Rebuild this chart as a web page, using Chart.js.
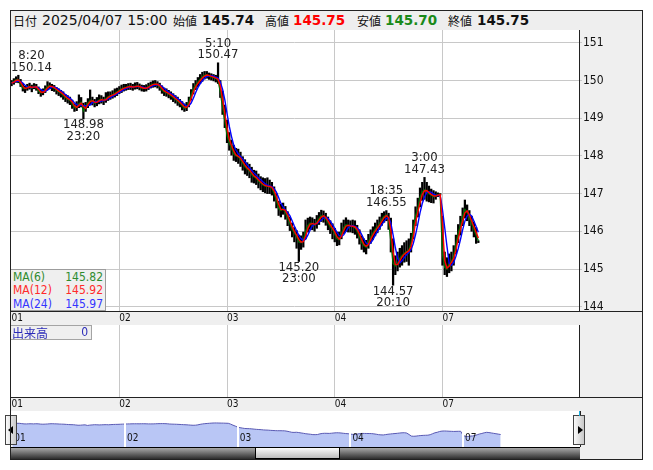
<!DOCTYPE html>
<html>
<head>
<meta charset="utf-8">
<script src="https://cdn.jsdelivr.net/npm/chart.js@4.4.1/dist/chart.umd.min.js"></script>
<style>
  body { margin: 0; background: #fff; }
  #wrap { position: relative; width: 653px; height: 470px; overflow: hidden;
          font-family: "DejaVu Sans Condensed", "DejaVu Sans", sans-serif; color: #111; }
  #wrap canvas, #wrap .abs { position: absolute; }
  #head { left: 10px; top: 10px; width: 632px; height: 21px; background: #eeeeee; }
  .hd { position: absolute; top: 11px; line-height: 19px; white-space: nowrap; }
  .jp { font-family: "Noto Sans CJK JP", sans-serif; font-size: 12px; }
  .dt { font-family: "DejaVu Sans", sans-serif; font-size: 14px; }
  .num { font-family: "DejaVu Sans", sans-serif; font-size: 13.5px; font-weight: bold; }
  #maBox { left: 10px; top: 269px; width: 96px; height: 42px; background: #efefef;
           border: 1px solid #9c9c9c; box-sizing: border-box; font-size: 12px; }
  #maBox div { position: absolute; left: 2px; right: 2px; height: 14px; line-height: 14px; }
  #maBox span { position: absolute; right: 0; }
  #volBox { left: 10px; top: 325px; width: 82px; height: 15px; background: #efefef;
            border: 1px solid #a4a4a4; box-sizing: border-box; color: #2a2ab8; }
  .btn { width: 12px; height: 30px; top: 415px; border: 1px solid #444; box-sizing: border-box;
         background: linear-gradient(to right, #fafafa, #c8c8c8); }
  .tri { position: absolute; top: 10px; width: 0; height: 0; border-top: 4px solid transparent;
         border-bottom: 4px solid transparent; }
  #frame { left: 10px; top: 10px; width: 633px; height: 450px; border: 1px solid #222;
           box-sizing: border-box; pointer-events: none; }
</style>
</head>
<body>
<div id="wrap">
  <div id="head" class="abs"></div>
  <span class="hd jp" style="left:13px">日付</span>
  <span class="hd dt" style="left:42px">2025/04/07 15:00</span>
  <span class="hd jp" style="left:173px">始値</span>
  <span class="hd num" style="left:202px">145.74</span>
  <span class="hd jp" style="left:265px">高値</span>
  <span class="hd num" style="left:293px;color:#ff0000">145.75</span>
  <span class="hd jp" style="left:357px">安値</span>
  <span class="hd num" style="left:385px;color:#1a8a1a">145.70</span>
  <span class="hd jp" style="left:448px">終値</span>
  <span class="hd num" style="left:477px">145.75</span>

  <canvas id="main" width="632" height="295" style="left:10px;top:30px;background:#efefef"></canvas>
  <canvas id="vol" width="632" height="86" style="left:10px;top:325px;background:#efefef"></canvas>
  <canvas id="nav" width="632" height="36" style="left:10px;top:411px;background:#efefef"></canvas>

  <div id="maBox" class="abs">
    <div style="top:0px;color:#2e8b2e">MA(6)<span>145.82</span></div>
    <div style="top:13px;color:#ff2a2a">MA(12)<span>145.92</span></div>
    <div style="top:27px;color:#3434ff">MA(24)<span>145.97</span></div>
  </div>
  <div id="volBox" class="abs">
    <span class="jp" style="position:absolute;left:1px;top:-2px">出来高</span>
    <span style="position:absolute;right:3px;top:0px;font-size:12px;line-height:13px">0</span>
  </div>

  <div class="abs btn" style="left:5px"><div class="tri" style="left:2px;border-right:5px solid #000"></div></div>
  <div class="abs btn" style="left:573px"><div class="tri" style="left:4px;border-left:5px solid #000"></div></div>
  <div class="abs" style="left:10px;top:411px;width:1px;height:5px;background:#20b0e0"></div>
  <div class="abs" style="left:579px;top:411px;width:1px;height:5px;background:#20b0e0"></div>

  <div class="abs" style="left:10px;top:447px;width:570px;height:12px;border-top:1px solid #000;box-sizing:border-box;background:linear-gradient(#a8a8a8,#2c2c2c)"></div>
  <div class="abs" style="left:255px;top:447px;width:85px;height:12px;border:1px solid #000;box-sizing:border-box;background:linear-gradient(#fbfbfb,#bdbdbd)"></div>
  <div class="abs" style="left:580px;top:447px;width:62px;height:12px;background:#efefef"></div>

  <div id="frame" class="abs"></div>
</div>

<script>
// half-hour samples from 2025/04/01 7:00 (index 0) to 04/07 15:00 (index 208)
const dayStarts = [0, 48, 96, 144, 192];
const dayLabels = ['01', '02', '03', '04', '07'];
const yTicks = [144, 145, 146, 147, 148, 149, 150, 151];

const closes = [
  149.93,149.98,150.02,150.01,149.90,149.80,149.78,149.83,149.84,149.80,
  149.85,149.82,149.72,149.67,149.70,149.76,149.84,149.86,149.82,149.80,
  149.74,149.70,149.67,149.60,149.55,149.50,149.48,149.38,149.28,149.30,
  149.38,149.42,149.20,149.32,149.40,149.48,149.45,149.40,149.44,149.48,
  149.50,149.46,149.52,149.57,149.60,149.62,149.66,149.70,
  149.74,149.78,149.80,149.82,149.84,149.84,149.82,149.85,149.85,149.83,
  149.80,149.79,149.80,149.84,149.88,149.90,149.91,149.89,149.84,149.75,
  149.70,149.68,149.64,149.60,149.55,149.50,149.45,149.40,149.33,149.27,
  149.30,149.42,149.62,149.78,149.88,149.96,150.03,150.10,150.14,150.15,
  150.12,150.10,150.08,150.05,150.02,149.70,149.30,148.95,
  148.55,148.35,148.20,148.05,148.00,147.98,147.90,147.80,147.71,147.65,
  147.60,147.50,147.45,147.41,147.33,147.28,147.23,147.20,147.20,147.18,
  147.15,147.00,146.83,146.60,146.55,146.61,146.50,146.35,146.21,146.05,
  145.95,145.85,145.72,145.70,145.75,146.00,146.15,146.22,146.20,146.17,
  146.25,146.34,146.42,146.40,146.33,146.22,146.12,146.05,
  145.92,145.80,145.78,145.95,146.10,146.17,146.15,146.14,146.13,146.10,
  146.00,145.86,145.70,145.62,145.58,145.72,145.85,145.95,146.05,146.12,
  146.21,146.32,146.40,146.43,146.30,145.75,145.15,145.08,145.15,145.28,
  145.36,145.42,145.46,145.50,145.68,146.05,146.40,146.60,146.90,147.05,
  147.10,147.06,147.00,146.96,146.92,146.95,146.97,146.98,
  145.40,145.05,145.00,145.15,145.20,145.35,145.65,145.95,146.15,146.40,
  146.58,146.50,146.35,146.20,146.05,145.90,145.75
];
const highs = [
  150.00,150.05,150.10,150.14,150.03,149.92,149.85,149.90,149.93,149.88,
  149.92,149.90,149.83,149.75,149.78,149.86,149.97,149.94,149.90,149.87,
  149.82,149.78,149.74,149.70,149.63,149.60,149.56,149.48,149.38,149.44,
  149.62,149.55,149.40,149.42,149.52,149.75,149.56,149.50,149.55,149.62,
  149.60,149.56,149.68,149.70,149.70,149.73,149.78,149.80,
  149.84,149.88,149.90,149.90,149.92,149.93,149.90,149.94,149.95,149.91,
  149.88,149.87,149.89,149.93,149.96,149.99,150.00,149.97,149.93,149.86,
  149.80,149.78,149.74,149.70,149.65,149.60,149.56,149.50,149.44,149.38,
  149.42,149.56,149.76,149.92,150.00,150.08,150.16,150.22,150.24,150.24,
  150.20,150.18,150.16,150.14,150.47,150.00,149.72,149.35,
  148.95,148.62,148.42,148.28,148.20,148.18,148.10,147.98,147.90,147.82,
  147.78,147.70,147.62,147.60,147.52,147.45,147.42,147.40,147.42,147.36,
  147.30,147.18,147.00,146.80,146.72,146.75,146.66,146.52,146.38,146.22,
  146.10,146.02,145.90,145.88,145.98,146.30,146.35,146.38,146.36,146.32,
  146.42,146.50,146.56,146.54,146.48,146.38,146.28,146.20,
  146.08,145.98,145.98,146.22,146.30,146.36,146.30,146.28,146.30,146.28,
  146.16,146.04,145.88,145.80,145.76,145.92,146.04,146.12,146.22,146.30,
  146.38,146.48,146.52,146.55,146.48,146.35,145.80,145.35,145.45,145.55,
  145.62,145.70,145.75,145.80,145.95,146.30,146.65,146.88,147.15,147.30,
  147.43,147.30,147.20,147.12,147.08,147.05,147.02,147.00,
  146.40,145.45,145.30,145.40,145.45,145.62,145.90,146.18,146.40,146.62,
  146.83,146.70,146.55,146.40,146.25,146.10,145.75
];
const lows = [
  149.86,149.90,149.95,149.94,149.84,149.72,149.68,149.74,149.77,149.70,
  149.78,149.74,149.65,149.58,149.62,149.68,149.76,149.78,149.73,149.71,
  149.64,149.60,149.56,149.50,149.44,149.40,149.36,149.26,149.18,149.20,
  149.28,149.30,148.98,149.18,149.28,149.36,149.35,149.30,149.33,149.38,
  149.40,149.36,149.42,149.47,149.50,149.53,149.56,149.60,
  149.65,149.68,149.72,149.74,149.76,149.76,149.74,149.77,149.78,149.75,
  149.72,149.71,149.72,149.76,149.80,149.82,149.83,149.80,149.74,149.66,
  149.60,149.58,149.54,149.50,149.44,149.40,149.34,149.30,149.22,149.18,
  149.20,149.30,149.48,149.64,149.76,149.84,149.92,149.98,150.04,150.06,
  150.03,150.01,149.99,149.96,149.92,149.55,149.10,148.75,
  148.35,148.15,148.02,147.88,147.85,147.80,147.72,147.62,147.52,147.48,
  147.42,147.30,147.28,147.24,147.15,147.10,147.05,147.02,147.00,147.00,
  146.96,146.80,146.62,146.42,146.38,146.45,146.32,146.15,146.02,145.85,
  145.72,145.55,145.20,145.52,145.58,145.80,145.98,146.05,146.04,146.00,
  146.08,146.18,146.26,146.24,146.16,146.04,145.94,145.80,
  145.72,145.62,145.64,145.80,145.94,146.00,145.98,145.98,145.96,145.92,
  145.82,145.66,145.52,145.45,145.40,145.55,145.68,145.78,145.88,145.96,
  146.05,146.16,146.24,146.28,146.05,145.45,144.57,144.85,144.95,145.05,
  145.10,145.18,145.20,145.10,145.45,145.80,146.15,146.38,146.65,146.82,
  146.85,146.80,146.78,146.76,146.75,146.85,146.92,146.96,
  145.10,144.85,144.80,144.90,144.95,145.10,145.40,145.70,145.90,146.15,
  146.35,146.28,146.15,146.00,145.85,145.68,145.70
];

// marked extremes
const peakIndex = [3, 32, 92, 128, 167, 170, 184];
const peakTimes = ['8:20', '23:20', '5:10', '23:00', '18:35', '20:10', '3:00'];
const peakPrices = [150.14, 148.98, 150.47, 145.20, 146.55, 144.57, 147.43];
const peakSide = ['high', 'low', 'high', 'low', 'high', 'low', 'high'];

// MA(6/12/24) of 5-minute bars = 1/2/4 half-hour samples
function movingAvg(src, n) {
  return src.map((_, i) => {
    const win = src.slice(Math.max(0, i - n + 1), i + 1);
    return win.reduce((a, b) => a + b, 0) / win.length;
  });
}
const toPts = arr => arr.map((v, i) => ({ x: i, y: v }));

const FONT = '"DejaVu Sans Condensed", "DejaVu Sans", sans-serif';
Chart.defaults.font.family = FONT;
Chart.defaults.animation = false;
Chart.defaults.plugins.legend.display = false;
Chart.defaults.plugins.tooltip.enabled = false;

const xMin = -0.71, xMax = 252.85;

// no extra room for first/last tick labels
function noPad(s) {
  s.paddingTop = 0; s.paddingBottom = 0; s.paddingLeft = 0; s.paddingRight = 0;
}

// white plot area + frame lines
const panel = {
  id: 'panel',
  beforeDraw(chart) {
    const { ctx, chartArea: a } = chart;
    ctx.save();
    ctx.fillStyle = '#fff';
    ctx.fillRect(a.left, a.top, a.right - a.left, a.bottom - a.top);
    ctx.restore();
  },
  afterDraw(chart) {
    const { ctx, chartArea: a, width } = chart;
    ctx.save();
    ctx.strokeStyle = '#222';
    ctx.lineWidth = 1;
    ctx.beginPath();
    ctx.moveTo(Math.round(a.right) + 0.5, 0);
    ctx.lineTo(Math.round(a.right) + 0.5, Math.round(a.bottom));
    ctx.moveTo(0, Math.round(a.bottom) + 0.5);
    ctx.lineTo(width, Math.round(a.bottom) + 0.5);
    ctx.stroke();
    ctx.restore();
  }
};

const peakLabels = {
  id: 'peakLabels',
  afterDatasetsDraw(chart) {
    const { ctx, chartArea: a, scales: { x, y } } = chart;
    ctx.save();
    ctx.font = '13px ' + FONT;
    ctx.fillStyle = '#222';
    ctx.textAlign = 'center';
    ctx.textBaseline = 'middle';
    peakIndex.forEach((idx, k) => {
      const txt = peakPrices[k].toFixed(2);
      const w = ctx.measureText(txt).width;
      const px = Math.max(x.getPixelForValue(idx), a.left + w / 2 + 1);
      const py = y.getPixelForValue(peakPrices[k]);
      if (peakSide[k] === 'high') {
        ctx.fillText(txt, px, py - 8);
        ctx.fillText(peakTimes[k], px, py - 19.5);
      } else {
        ctx.fillText(txt, px, py + 6);
        ctx.fillText(peakTimes[k], px, py + 17.5);
      }
    });
    ctx.restore();
  }
};

function dayAxis() {
  return {
    type: 'linear', min: xMin, max: xMax, offset: false,
    afterBuildTicks: s => { s.ticks = dayStarts.map(v => ({ value: v })); },
    afterFit: s => { s.height = 14; noPad(s); },
    grid: { offset: false, drawTicks: false,
            color: c => (c.tick && c.tick.value === 0) ? 'rgba(0,0,0,0)' : '#c8c8c8' },
    border: { display: false },
    ticks: { callback: (v, i) => dayLabels[i], align: 'start', maxRotation: 0,
             autoSkip: false, padding: 1, color: '#111', font: { size: 10 } }
  };
}

new Chart(document.getElementById('main'), {
  type: 'bar',
  data: {
    datasets: [
      { type: 'line', label: 'MA(12)', data: toPts(movingAvg(closes, 2)), borderColor: '#ff0000',
        borderWidth: 1.4, pointRadius: 0, order: 1 },
      { type: 'line', label: 'MA(24)', data: toPts(movingAvg(closes, 4)), borderColor: '#0000ff',
        borderWidth: 1.4, pointRadius: 0, order: 2 },
      { type: 'line', label: 'MA(6)', data: toPts(movingAvg(closes, 1)), borderColor: '#006e00',
        borderWidth: 1.4, pointRadius: 0, order: 3 },
      { type: 'bar', label: 'range', data: closes.map((c, i) => ({ x: i, y: [lows[i], highs[i]] })),
        backgroundColor: '#000', barThickness: 1.6, order: 4 }
    ]
  },
  options: {
    responsive: false,
    layout: { padding: 0 },
    scales: {
      x: dayAxis(),
      y: {
        position: 'right', min: 143.886, max: 151.34, beginAtZero: false,
        afterBuildTicks: s => { s.ticks = yTicks.map(v => ({ value: v })); },
        afterFit: s => { s.width = 63; noPad(s); },
        grid: { color: '#c8c8c8', tickLength: 3 },
        border: { display: false },
        ticks: { padding: 1, color: '#111', font: { size: 12 }, callback: v => String(v) }
      }
    }
  },
  plugins: [panel, peakLabels]
});

new Chart(document.getElementById('vol'), {
  type: 'bar',
  data: { datasets: [] },
  options: {
    responsive: false,
    layout: { padding: 0 },
    scales: {
      x: dayAxis(),
      y: { position: 'right', min: 0, max: 1, afterFit: s => { s.width = 63; noPad(s); },
           grid: { display: false }, border: { display: false }, ticks: { display: false } }
    }
  },
  plugins: [panel]
});

const navMarks = {
  id: 'navMarks',
  afterDatasetsDraw(chart) {
    const { ctx, chartArea: a, scales: { x } } = chart;
    ctx.save();
    ctx.strokeStyle = '#fff';
    ctx.lineWidth = 2;
    dayStarts.slice(1).forEach(d => {
      const px = Math.round(x.getPixelForValue(d));
      ctx.beginPath(); ctx.moveTo(px, a.top + 6); ctx.lineTo(px, a.bottom); ctx.stroke();
    });
    ctx.fillStyle = '#111';
    ctx.font = '10px ' + FONT;
    ctx.textBaseline = 'middle';
    dayStarts.forEach((d, k) => ctx.fillText(dayLabels[k], x.getPixelForValue(d) + 2, 27));
    ctx.strokeStyle = '#222';
    ctx.lineWidth = 1;
    ctx.beginPath();
    ctx.moveTo(Math.round(a.right) + 0.5, 0); ctx.lineTo(Math.round(a.right) + 0.5, a.bottom);
    ctx.stroke();
    ctx.restore();
  }
};

new Chart(document.getElementById('nav'), {
  type: 'line',
  data: {
    datasets: [{ data: toPts(closes), borderColor: '#5a5ab4', borderWidth: 1, pointRadius: 0,
                 fill: 'start', backgroundColor: '#b9c6f5' }]
  },
  options: {
    responsive: false,
    layout: { padding: 0 },
    scales: {
      x: { type: 'linear', min: -0.98, max: 241.8, display: false },
      y: { position: 'right', min: 141, max: 154.7, afterFit: s => { s.width = 62; noPad(s); },
           grid: { display: false }, border: { display: false }, ticks: { display: false } }
    }
  },
  plugins: [{ id: 'navBg', beforeDraw: panel.beforeDraw }, navMarks]
});
</script>
</body>
</html>
